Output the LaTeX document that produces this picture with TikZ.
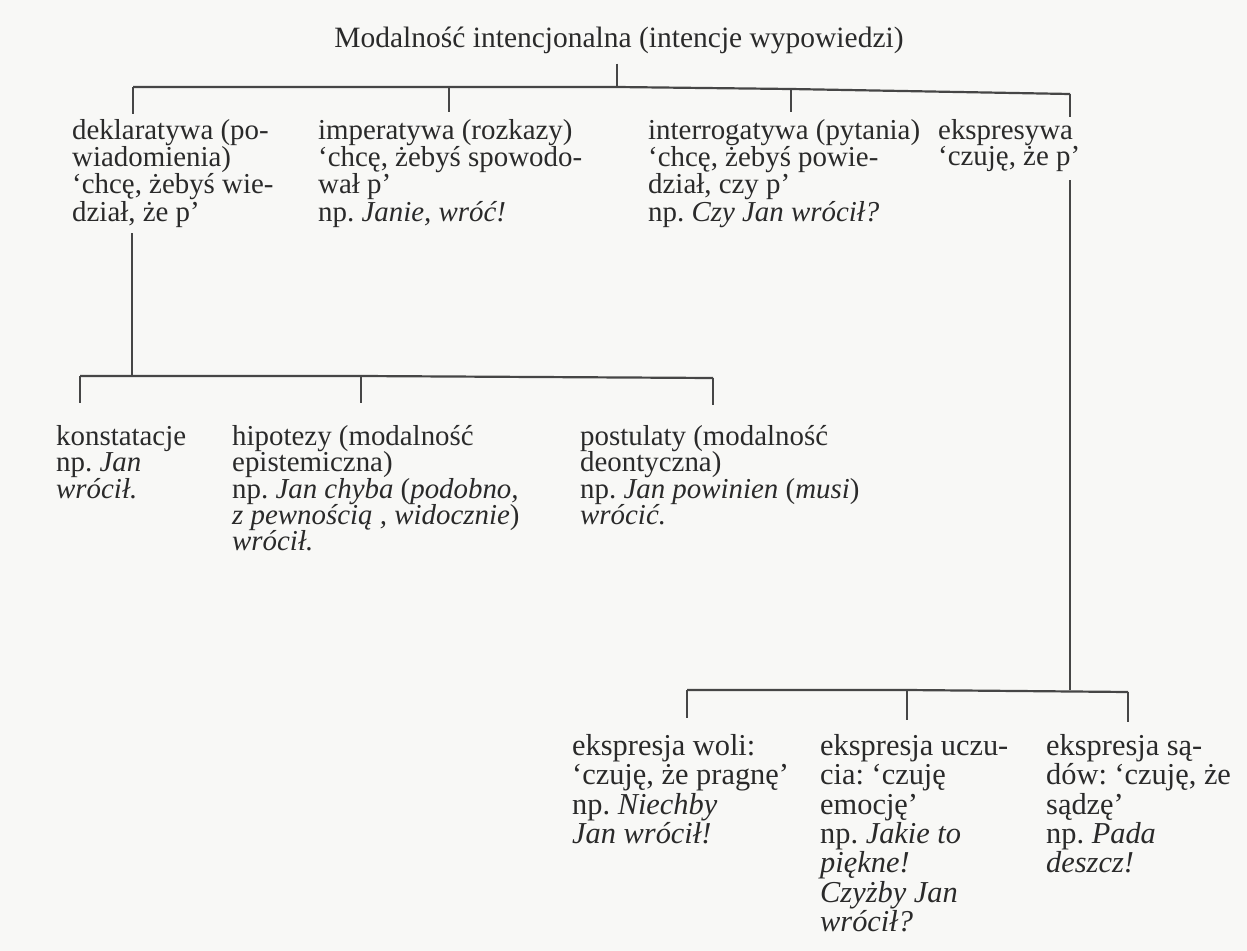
\documentclass[tikz,border=0pt]{standalone}
\usepackage{fontspec}
\setmainfont{Liberation Serif}
\usetikzlibrary{calc}
\definecolor{inkgray}{RGB}{42,42,42}
\definecolor{linegray}{RGB}{70,70,70}
\definecolor{paper}{RGB}{248,248,246}

\begin{document}
\begin{tikzpicture}[x=1bp,y=-1bp,
  lbl/.style={anchor=north west,inner sep=0pt,align=left,text=inkgray,
    font=\fontsize{29}{26.5}\selectfont\frenchspacing},
  toplbl/.style={lbl,font=\fontsize{29}{25}\selectfont\frenchspacing},
  lowlbl/.style={lbl,font=\fontsize{30.5}{29.5}\selectfont\frenchspacing},
  branch/.style={draw=linegray,line width=2.2bp}]
% paper
\fill[paper] (0,0) rectangle (1247,951);
\useasboundingbox (0,0) rectangle (1247,951);
% top
\node[anchor=base,inner sep=0pt,text=inkgray,font=\fontsize{29.6}{27}\selectfont]
  (modal) at (619,47) {Modalność intencjonalna (intencje wypowiedzi)};
\coordinate (j0) at (617,87);
\coordinate (j1a) at (133,87);
\coordinate (j1b) at (449,87);
\coordinate (j1c) at (791,89);
\coordinate (j1d) at (1070,94);
% first row
\node[toplbl] (dekl) at (72,119) {deklaratywa (po-\\wiadomienia)\\‘chcę, żebyś wie-\\dział, że p’};
\node[toplbl] (imper) at (318,119) {imperatywa (rozkazy)\\‘chcę, żebyś spowodo-\\wał p’\\np. \textit{Janie, wróć!}};
\node[toplbl] (inter) at (648,119) {interrogatywa (pytania)\\‘chcę, żebyś powie-\\dział, czy p’\\np. \textit{Czy Jan wrócił?}};
\node[toplbl] (ekspr) at (938,119) {ekspresywa\\‘czuję, że p’};
\draw[branch] ($(j0 |- modal.south)+(0,10)$) -- (j0);
\draw[branch] (j1a) -- (j0) -- (j1c) -- (j1d);
\draw[branch] (j1a) -- ($(j1a |- dekl.north)+(0,-5)$);
\draw[branch] (j1b) -- ($(j1b |- imper.north)+(0,-7)$);
\draw[branch] (j1c) -- ($(j1c |- inter.north)+(0,-7)$);
\draw[branch] (j1d) -- ($(j1d |- ekspr.north)+(0,-2)$);
% second row
\coordinate (j2) at (132,376);
\coordinate (j2a) at (80,376);
\coordinate (j2b) at (361,376);
\coordinate (j2c) at (713,378);
\node[lbl] (konst) at (56,425) {konstatacje\\np. \textit{Jan}\\\textit{wrócił.}};
\node[lbl] (hipot) at (232,425) {hipotezy (modalność\\epistemiczna)\\np. \textit{Jan chyba} (\textit{podobno,}\\\textit{z pewnością , widocznie})\\\textit{wrócił.}};
\node[lbl] (postul) at (580,425) {postulaty (modalność\\deontyczna)\\np. \textit{Jan powinien} (\textit{musi})\\\textit{wrócić.}};
\draw[branch] ($(j2 |- dekl.south)+(0,6)$) -- (j2);
\draw[branch] (j2a) -- (j2b) -- (j2c);
\draw[branch] (j2a) -- ($(j2a |- konst.north)+(0,-22)$);
\draw[branch] (j2b) -- ($(j2b |- hipot.north)+(0,-22)$);
\draw[branch] (j2c) -- ($(j2c |- postul.north)+(0,-20)$);
% third row
\coordinate (j3) at (1070,690);
\coordinate (j3a) at (687,690);
\coordinate (j3b) at (907,690);
\coordinate (j3c) at (1128,692);
\node[lowlbl] (woli) at (572,734) {ekspresja woli:\\‘czuję, że pragnę’\\np. \textit{Niechby}\\\textit{Jan wrócił!}};
\node[lowlbl] (uczuc) at (820,734) {ekspresja uczu-\\cia: ‘czuję\\emocję’\\np. \textit{Jakie to}\\\textit{piękne!}\\\textit{Czyżby Jan}\\\textit{wrócił?}};
\node[lowlbl] (sadow) at (1046,734) {ekspresja są-\\dów: ‘czuję, że\\sądzę’\\np. \textit{Pada}\\\textit{deszcz!}};
\draw[branch] ($(j3 |- ekspr.south)+(0,8)$) -- (j3);
\draw[branch] (j3a) -- (j3b) -- (j3c);
\draw[branch] (j3a) -- ($(j3a |- woli.north)+(0,-16)$);
\draw[branch] (j3b) -- ($(j3b |- uczuc.north)+(0,-14)$);
\draw[branch] (j3c) -- ($(j3c |- sadow.north)+(0,-12)$);
\end{tikzpicture}
\end{document}
